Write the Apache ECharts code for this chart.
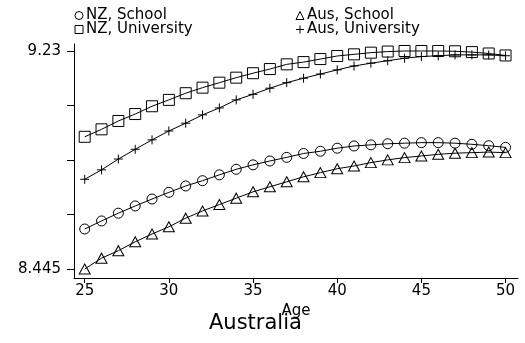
<!DOCTYPE html>
<html>
<head>
<meta charset="utf-8">
<script src="https://cdn.jsdelivr.net/npm/echarts@6/dist/echarts.min.js"></script>
<style>
  html, body { margin: 0; padding: 0; background: #fff; }
  #chart { width: 525px; height: 343px; }
</style>
</head>
<body>
<div id="chart"></div>
<script>
// Predicted log earnings by age, school vs university leavers
const ages = [25, 26, 27, 28, 29, 30, 31, 32, 33, 34, 35, 36, 37, 38, 39, 40, 41, 42, 43, 44, 45, 46, 47, 48, 49, 50];

const nzSchool = [8.589, 8.618, 8.646, 8.672, 8.697, 8.721, 8.744, 8.763, 8.784, 8.804, 8.820, 8.834, 8.847, 8.861, 8.869, 8.880, 8.888, 8.892, 8.896, 8.898, 8.900, 8.900, 8.898, 8.894, 8.889, 8.883];
const nzUniversity = [8.921, 8.948, 8.978, 9.003, 9.031, 9.054, 9.078, 9.098, 9.116, 9.134, 9.150, 9.165, 9.182, 9.190, 9.201, 9.212, 9.218, 9.224, 9.228, 9.230, 9.230, 9.230, 9.229, 9.226, 9.221, 9.214];
const ausSchool = [8.445, 8.484, 8.511, 8.543, 8.571, 8.597, 8.628, 8.654, 8.677, 8.700, 8.723, 8.741, 8.759, 8.777, 8.792, 8.806, 8.816, 8.828, 8.838, 8.846, 8.852, 8.858, 8.862, 8.864, 8.866, 8.864];
const ausUniversity = [8.768, 8.802, 8.841, 8.876, 8.910, 8.942, 8.970, 9.000, 9.025, 9.054, 9.074, 9.096, 9.116, 9.132, 9.147, 9.162, 9.176, 9.186, 9.195, 9.204, 9.210, 9.213, 9.216, 9.216, 9.216, 9.213];

const xTicks = [25, 30, 35, 40, 45, 50];
const yTicks = [8.445, 8.64125, 8.8375, 9.03375, 9.23];
const yTickLabels = ['8.445', '9.23'];

const FONT = 'DejaVu Sans';
const plusPath = 'path://M5,0L5,10M0,5L10,5';

function pairs(values) {
  return ages.map((a, i) => [a, values[i]]);
}

function makeSeries(name, values, symbol, size) {
  return {
    name: name,
    type: 'line',
    data: pairs(values),
    symbol: symbol,
    symbolSize: size,
    showAllSymbol: true,
    lineStyle: { color: '#000', width: 1 },
    itemStyle: { color: 'rgba(0,0,0,0)', borderColor: '#000', borderWidth: 1 },
    emphasis: { disabled: true },
    animation: false
  };
}

const chart = echarts.init(document.getElementById('chart'), null, { renderer: 'canvas' });

const legendBase = {
  orient: 'vertical',
  top: 8,
  itemWidth: 10,
  itemHeight: 10,
  itemGap: -1,
  padding: 0,
  selectedMode: false,
  lineStyle: { opacity: 0 },
  itemStyle: { color: 'rgba(0,0,0,0)', borderColor: '#000', borderWidth: 1 },
  textStyle: { fontFamily: FONT, fontSize: 15, color: '#000', padding: [0, 0, 0, -3] }
};

chart.setOption({
  backgroundColor: '#fff',
  animation: false,
  title: {
    text: 'Australia',
    left: 209,
    top: 313,
    padding: 0,
    textStyle: { fontFamily: FONT, fontSize: 21, fontWeight: 'normal', color: '#000' }
  },
  legend: [
    Object.assign({}, legendBase, { left: 73, data: ['NZ, School', 'NZ, University'] }),
    Object.assign({}, legendBase, { left: 294, data: ['Aus, School', 'Aus, University'] })
  ],
  grid: { left: 74, right: 7, top: 44, bottom: 65, containLabel: false },
  xAxis: {
    type: 'value',
    min: 24.364,
    max: 50.74,
    name: 'Age',
    nameLocation: 'middle',
    nameGap: 12,
    nameTextStyle: { fontFamily: FONT, fontSize: 15, color: '#000' },
    axisLine: { show: true, lineStyle: { color: '#000', width: 1 } },
    axisTick: { show: true, length: 5, lineStyle: { color: '#000' }, customValues: xTicks },
    axisLabel: { fontFamily: FONT, fontSize: 15, color: '#000', margin: 6, customValues: xTicks },
    splitLine: { show: false }
  },
  yAxis: {
    type: 'value',
    min: 8.4126,
    max: 9.2552,
    axisLine: { show: true, lineStyle: { color: '#000', width: 1 } },
    axisTick: { show: true, length: 7, lineStyle: { color: '#000' }, customValues: yTicks },
    axisLabel: {
      fontFamily: FONT, fontSize: 15, color: '#000', margin: 13,
      customValues: [8.445, 9.23],
      formatter: function (v) {
        return Math.abs(v - 8.445) < 1e-6 ? yTickLabels[0] : yTickLabels[1];
      }
    },
    splitLine: { show: false }
  },
  series: [
    makeSeries('NZ, School', nzSchool, 'circle', 10),
    makeSeries('NZ, University', nzUniversity, 'rect', 11),
    makeSeries('Aus, School', ausSchool, 'triangle', [11, 10]),
    makeSeries('Aus, University', ausUniversity, plusPath, 9)
  ]
});
</script>
</body>
</html>
